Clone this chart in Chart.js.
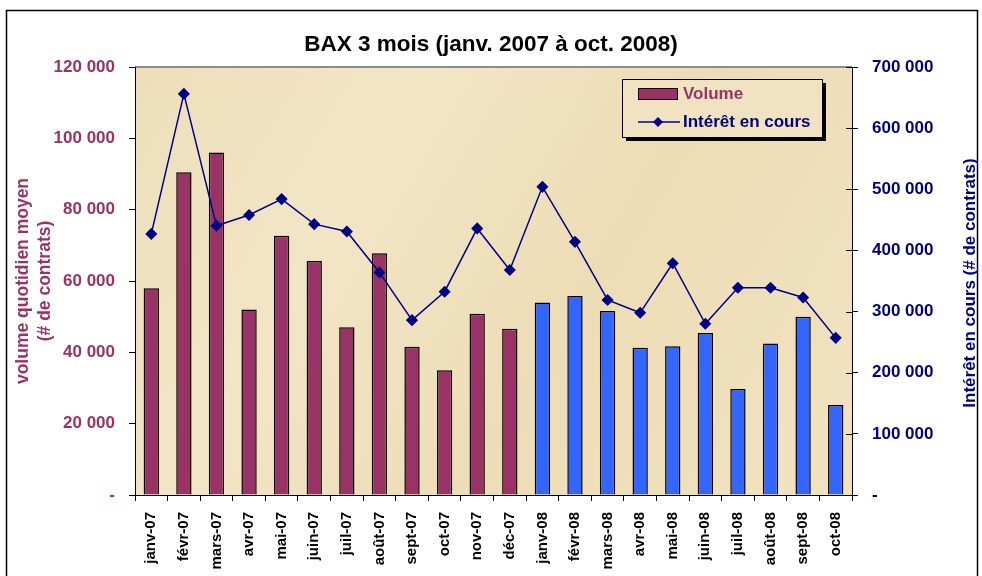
<!DOCTYPE html>
<html>
<head>
<meta charset="utf-8">
<script src="https://cdn.jsdelivr.net/npm/chart.js@4"></script>
<style>
  body { margin: 0; background: #fff; }
  canvas { display: block; }
</style>
</head>
<body>
<canvas id="myChart" width="982" height="576"></canvas>
<script>
const months = ['janv-07', 'févr-07', 'mars-07', 'avr-07', 'mai-07', 'juin-07', 'juil-07', 'août-07',
    'sept-07', 'oct-07', 'nov-07', 'déc-07', 'janv-08', 'févr-08', 'mars-08', 'avr-08', 'mai-08',
    'juin-08', 'juil-08', 'août-08', 'sept-08', 'oct-08']

// volume quotidien moyen (# de contrats)
const volume = [58000, 90500, 96000, 52000, 72700, 65600, 47000, 67800, 41600, 35000, 50800, 46600,
    54000, 55800, 51600, 41300, 41700, 45400, 29700, 42500, 50000, 25200]

// intérêt en cours (# de contrats)
const interet = [427000, 656000, 440500, 458000, 484000, 443000, 431000, 364000, 286000, 332500, 436000, 368000,
    504000, 414000, 319000, 298000, 379000, 280000, 339000, 339000, 323000, 257000]

const leftTicks = [0, 20000, 40000, 60000, 80000, 100000, 120000]
const rightTicks = [0, 100000, 200000, 300000, 400000, 500000, 600000, 700000]

const MAROON = '#993366'
const BLUE = '#3366FF'
const NAVY = '#000080'
const FONT = '"Liberation Sans", Arial, sans-serif'

const fmt = v => v === 0 ? '-' : String(v).replace(/\B(?=(\d{3})+(?!\d))/g, ' ')

// 2007 bars in maroon, 2008 bars in blue
const barColors = months.map(m => m.endsWith('-07') ? MAROON : BLUE)

const decor = {
    id: 'decor',
    beforeDraw(chart) {
        const { ctx, chartArea: a } = chart
        ctx.save()
        ctx.fillStyle = '#fff'
        ctx.fillRect(0, 0, chart.width, chart.height)
        // parchment background
        const g = ctx.createLinearGradient(a.left, a.top, a.right, a.bottom)
        g.addColorStop(0, '#EEDFBA')
        g.addColorStop(0.3, '#F2E5C6')
        g.addColorStop(0.6, '#EDDDB6')
        g.addColorStop(1, '#F1E3C2')
        ctx.fillStyle = g
        ctx.fillRect(a.left, a.top, a.right - a.left, a.bottom - a.top)
        ctx.strokeStyle = '#8c8c8c'
        ctx.lineWidth = 2
        ctx.beginPath()
        ctx.moveTo(a.left, a.top)
        ctx.lineTo(a.right, a.top)
        ctx.stroke()
        ctx.restore()
    },
    afterDraw(chart) {
        const { ctx, chartArea: a } = chart
        ctx.save()
        // inner half of the right axis ticks
        const y1 = chart.scales.y1
        ctx.strokeStyle = '#000'
        ctx.lineWidth = 1
        rightTicks.forEach(v => {
            const y = Math.round(y1.getPixelForValue(v)) + 0.5
            ctx.beginPath()
            ctx.moveTo(a.right - 6, y)
            ctx.lineTo(a.right, y)
            ctx.stroke()
        })
        // outer frame
        ctx.lineWidth = 1.5
        ctx.strokeRect(6.5, 10.5, 971, 640)

        // right axis title, reading bottom to top
        ctx.save()
        ctx.translate(970, 283)
        ctx.rotate(-Math.PI / 2)
        ctx.fillStyle = NAVY
        ctx.font = 'bold 17px ' + FONT
        ctx.textAlign = 'center'
        ctx.textBaseline = 'middle'
        ctx.fillText('Intérêt en cours (# de contrats)', 0, 0)
        ctx.restore()

        // legend box
        const lx = 622, ly = 79, lw = 200, lh = 58
        ctx.fillStyle = '#000'
        ctx.fillRect(lx + 4, ly + 4, lw, lh)
        ctx.fillStyle = '#F1E3C2'
        ctx.fillRect(lx, ly, lw, lh)
        ctx.strokeStyle = '#000'
        ctx.lineWidth = 1
        ctx.strokeRect(lx + 0.5, ly + 0.5, lw, lh)

        ctx.fillStyle = MAROON
        ctx.fillRect(638, 88, 39, 11)
        ctx.strokeRect(638.5, 88.5, 39, 11)
        ctx.font = 'bold 17px ' + FONT
        ctx.textBaseline = 'middle'
        ctx.fillText('Volume', 683, 94)

        ctx.strokeStyle = NAVY
        ctx.lineWidth = 1.5
        ctx.beginPath()
        ctx.moveTo(638, 122)
        ctx.lineTo(680, 122)
        ctx.stroke()
        ctx.fillStyle = NAVY
        ctx.beginPath()
        ctx.moveTo(658, 117)
        ctx.lineTo(663, 122)
        ctx.lineTo(658, 127)
        ctx.lineTo(653, 122)
        ctx.closePath()
        ctx.fill()
        ctx.fillText('Intérêt en cours', 683, 122)
        ctx.restore()
    }
}

const ctx = document.getElementById('myChart').getContext('2d')
const myChart = new Chart(ctx, {
    data: {
        labels: months,
        datasets: [{
            type: 'line',
            label: 'Intérêt en cours',
            data: interet,
            yAxisID: 'y1',
            borderColor: NAVY,
            backgroundColor: NAVY,
            borderWidth: 1.5,
            pointStyle: 'rectRot',
            pointRadius: 5,
            tension: 0
        }, {
            type: 'bar',
            label: 'Volume',
            data: volume,
            yAxisID: 'y',
            backgroundColor: barColors,
            borderColor: '#000',
            borderWidth: 1.5,
            barPercentage: 0.47,
            categoryPercentage: 1
        }]
    },
    options: {
        responsive: false,
        animation: false,
        layout: { padding: 0 },
        plugins: {
            legend: { display: false },
            tooltip: { enabled: false },
            title: {
                display: true,
                text: 'BAX 3 mois (janv. 2007 à oct. 2008)',
                color: '#000',
                font: { family: FONT, size: 22.5, weight: 'bold', lineHeight: 1.2 },
                padding: { top: 31, bottom: 9 }
            }
        },
        scales: {
            x: {
                grid: { offset: true, drawOnChartArea: false, tickLength: 6, color: '#000' },
                border: { display: true, color: '#000' },
                ticks: {
                    color: '#000', autoSkip: false, minRotation: 90, maxRotation: 90, padding: 11,
                    font: { family: FONT, size: 15, weight: 'bold' }
                },
                afterFit: s => { s.height = 81 }
            },
            y: {
                position: 'left',
                min: 0, max: 120000,
                afterBuildTicks: s => { s.ticks = leftTicks.map(v => ({ value: v })) },
                grid: { drawOnChartArea: false, tickLength: 6, color: '#000' },
                border: { display: true, color: '#000' },
                ticks: {
                    color: MAROON, padding: 14, callback: v => fmt(v),
                    font: { family: FONT, size: 17, weight: 'bold' }
                },
                title: {
                    display: true,
                    text: ['volume quotidien moyen', '(# de contrats)'],
                    color: MAROON,
                    font: { family: FONT, size: 17.5, weight: 'bold', lineHeight: 1.25 },
                    padding: { top: 12, bottom: 0 }
                },
                afterFit: s => { s.width = 135 }
            },
            y1: {
                position: 'right',
                min: 0, max: 700000,
                afterBuildTicks: s => { s.ticks = rightTicks.map(v => ({ value: v })) },
                grid: { drawOnChartArea: false, tickLength: 6, color: '#000' },
                border: { display: true, color: '#000' },
                ticks: {
                    color: NAVY, padding: 14, callback: v => fmt(v),
                    font: { family: FONT, size: 17, weight: 'bold' }
                },
                afterFit: s => { s.width = 130 }
            }
        }
    },
    plugins: [decor]
})
</script>
</body>
</html>
